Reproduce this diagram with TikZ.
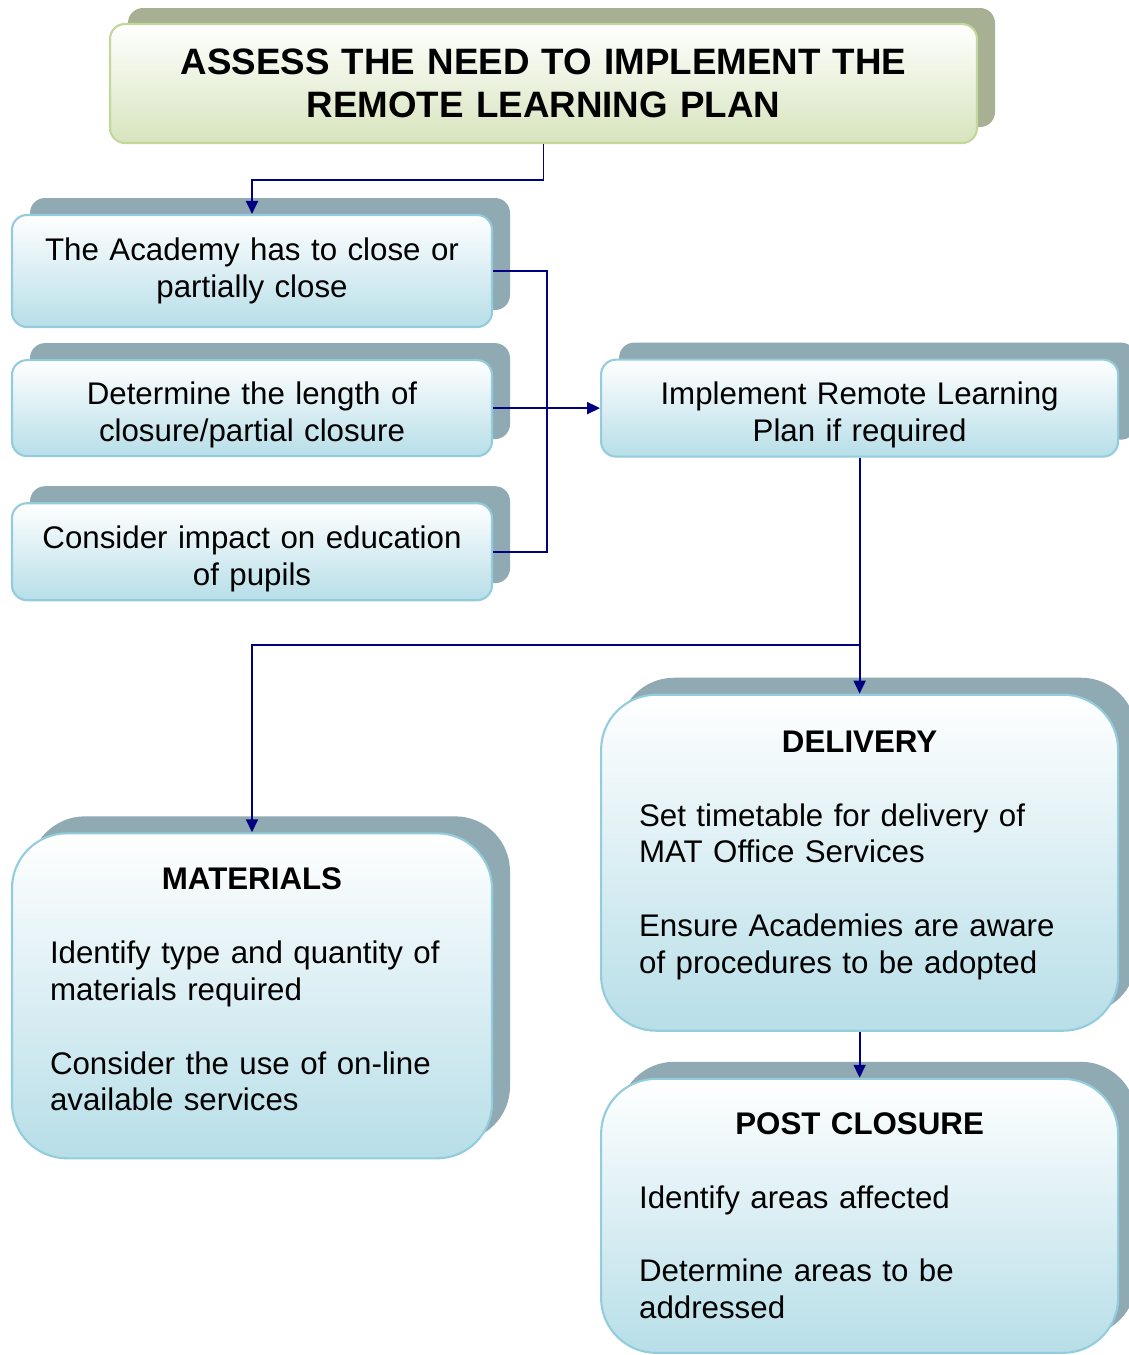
\documentclass[tikz,border=0pt]{standalone}
\usepackage{fontspec}
\setmainfont{Liberation Sans}
\usetikzlibrary{positioning, shadows, arrows.meta}

\definecolor{navyline}{HTML}{000080}
\definecolor{cardfill}{HTML}{B7DEE8}
\definecolor{cardedge}{HTML}{93CDDD}
\definecolor{cardshade}{HTML}{8FAAB2}
\definecolor{headfill}{HTML}{D7E4BD}
\definecolor{headedge}{HTML}{C3D69B}
\definecolor{headshade}{HTML}{A7B093}

\newcommand{\lift}[1]{\rule[-#1]{0pt}{0pt}}
\newcommand{\drop}[1]{\rule{0pt}{#1}}

\tikzset{
  box/.style={line width=1.2pt, rounded corners=0.3cm, top color=white,
    font=\fontsize{17.8}{21}\selectfont, align=center, inner xsep=0.2cm, text width=9.2cm},
  card/.style={box, draw=cardedge, bottom color=cardfill,
    general shadow={shadow xshift=0.36cm, shadow yshift=0.34cm, fill=cardshade}},
  lowcard/.style={card, inner ysep=0.05cm},
  headbox/.style={box, draw=headedge, bottom color=headfill,
    general shadow={shadow xshift=0.36cm, shadow yshift=0.32cm, fill=headshade}},
  bigcard/.style={card, rounded corners=1.1cm, align=left, inner xsep=0.76cm},
  link/.style={draw=navyline, line width=1.1pt, -{Triangle[length=0.26cm, width=0.24cm]}},
}

\begin{document}
\begin{tikzpicture}
\useasboundingbox (0,0) rectangle (22.56,-27.1);

\node[headbox, text width=16.94cm, minimum height=2.38cm, font=\bfseries\fontsize{20.9}{24.5}\selectfont] (assess) at (10.87,-1.67) {ASSESS THE NEED TO IMPLEMENT THE\\ REMOTE LEARNING PLAN};

\node[card, minimum height=2.24cm] (closure) at (5.04,-5.42) {The Academy has to close or\\ partially close};
\node[lowcard, minimum height=1.92cm, below=0.62cm of closure] (length) {\drop{0.73cm}Determine the length of\\ closure/partial closure};
\node[lowcard, minimum height=1.94cm, below=0.9cm of length] (impact) {\drop{0.73cm}Consider impact on education\\ of pupils};
\node[lowcard, text width=9.94cm, minimum height=1.94cm, right=2.14cm of length] (implement) {\drop{0.73cm}Implement Remote Learning\\ Plan if required};

\node[bigcard, text width=8.82cm, minimum height=6.72cm, below=4.72cm of implement] (delivery) {{\centering\textbf{DELIVERY}\par}\vspace{21pt}
Set timetable for delivery of\\ MAT Office Services\\[21pt]
Ensure Academies are aware\\ of procedures to be adopted\lift{0.42cm}};
\node[bigcard, text width=8.82cm, minimum height=5.48cm, below=0.92cm of delivery] (postclosure) {{\centering\textbf{POST CLOSURE}\par}\vspace{21pt}
Identify areas affected\\[21pt]
Determine areas to be\\ addressed};
\node[bigcard, text width=8.08cm, minimum height=6.5cm, below=4.62cm of impact] (materials) {{\centering\textbf{MATERIALS}\par}\vspace{21pt}
Identify type and quantity of\\ materials required\\[21pt]
Consider the use of on-line\\ available services\lift{0.26cm}};

\draw[link] (assess.south) -- ++(0,-0.72) -| (closure.north);
\draw[navyline, line width=1.1pt] (closure.east) -- ++(1.08,0) |- (impact.east);
\draw[link] (length.east) -- (implement.west);
\draw[link] (implement.south) -- ++(0,-3.74) -| (materials.north);
\draw[link] (implement.south) -- (delivery.north);
\draw[link] (delivery.south) -- (postclosure.north);
\end{tikzpicture}
\end{document}
